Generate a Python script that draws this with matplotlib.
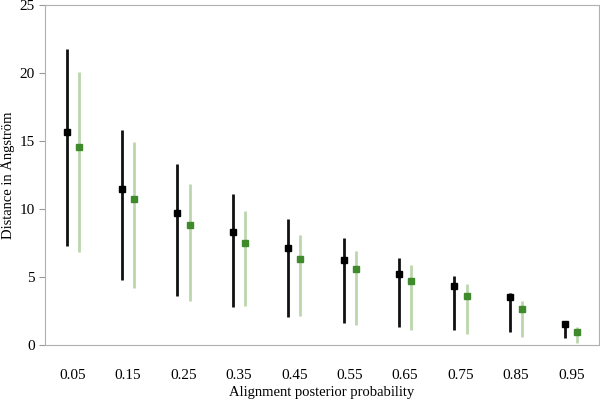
import matplotlib.pyplot as plt
import numpy as np

plt.rcParams['font.family'] = ['Liberation Serif', 'DejaVu Serif']

cats = ['0.05', '0.15', '0.25', '0.35', '0.45', '0.55', '0.65', '0.75', '0.85', '0.95']

# black series: mean, top, bottom
blk_mean = [15.68, 11.45, 9.70, 8.33, 7.11, 6.22, 5.25, 4.36, 3.53, 1.52]
blk_top = [21.74, 15.78, 13.30, 11.10, 9.26, 7.84, 6.40, 5.07, 3.80, 1.67]
blk_bot = [7.28, 4.75, 3.63, 2.82, 2.04, 1.64, 1.30, 1.10, 0.93, 0.54]

# green series
grn_mean = [14.56, 10.71, 8.80, 7.48, 6.35, 5.56, 4.70, 3.63, 2.67, 0.98]
grn_top = [20.10, 14.90, 11.84, 9.88, 8.06, 6.91, 5.86, 4.51, 3.26, 1.32]
grn_bot = [6.86, 4.19, 3.26, 2.87, 2.13, 1.44, 1.08, 0.81, 0.61, 0.17]

fig = plt.figure(figsize=(6, 4), dpi=100)
ax = fig.add_axes([45/600, 55/400, 554/600, 340/400])

x = np.arange(len(cats))
off = 0.11

ax.vlines(x - off, blk_bot, blk_top, color='#111111', lw=2)
ax.plot(x - off, blk_mean, 's', color='black', ms=5, ls='none')
ax.vlines(x + off, grn_bot, grn_top, color='#bcd6ae', lw=2)
ax.plot(x + off, grn_mean, 's', color='#3f8a2a', ms=5, ls='none')

ax.set_xlim(-0.5, 9.5)
ax.set_ylim(0, 25)
ax.set_yticks([0, 5, 10, 15, 20, 25])
ax.set_xticks(x)
ax.set_xticklabels(cats)
ax.tick_params(axis='x', length=0, pad=17, labelsize=11)
ax.tick_params(axis='y', length=4, color='#999999', labelsize=11)
for s in ax.spines.values():
    s.set_color('#b0b0b0')

ax.set_xlabel('Alignment posterior probability', fontsize=10.5, labelpad=3)
ax.set_ylabel('Distance in Ångström', fontsize=10.5)
ax.yaxis.set_label_coords(-0.054, 0.5)

fig.savefig('out.png', dpi=100)
